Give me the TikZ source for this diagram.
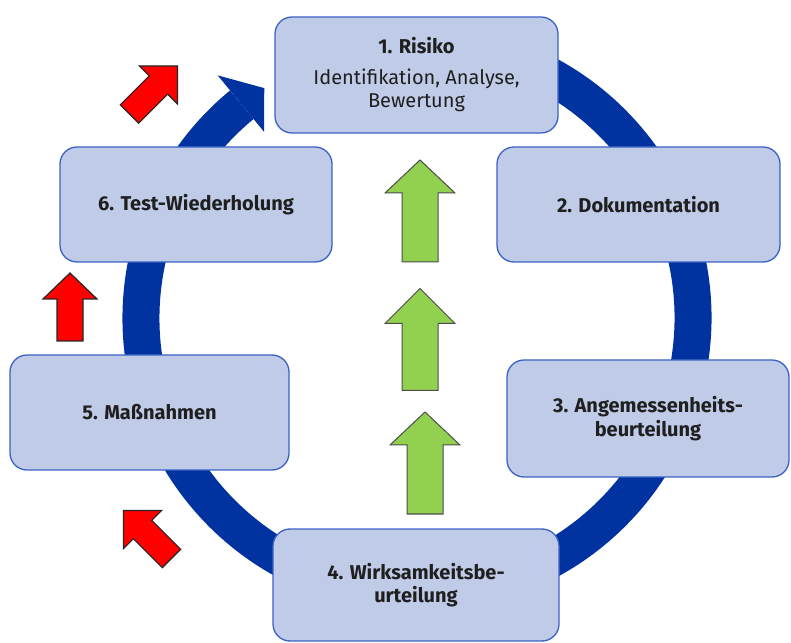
\documentclass[tikz,border=0pt]{standalone}
\usepackage{fontspec}
\setmainfont{Fira Sans}
\usetikzlibrary{calc}

\definecolor{ringblue}{HTML}{0033A0}
\definecolor{boxfill}{HTML}{C0CBE8}
\definecolor{boxline}{HTML}{3A62C4}
\definecolor{arrowgreen}{HTML}{92D050}

\tikzset{
  stage/.style={draw=boxline, line width=1.3pt, fill=boxfill, rounded corners=17pt,
    align=center, text=black!88, inner sep=0pt, font=\fontsize{20}{23.5}\selectfont},
  ringline/.style={draw=ringblue, line width=37pt},
  redarrow/.style={fill=red, draw=black!85, line width=1.2pt, line join=miter},
  greenarrow/.style={fill=arrowgreen, draw=black!70, line width=1pt, line join=miter},
  pics/blockarrow/.style n args={4}{% length, head length, head width, shaft width
    code={\draw[pic actions] (-#4/2,-#1/2) -- (-#4/2,#1/2-#2) -- (-#3/2,#1/2-#2) -- (0,#1/2)
      -- (#3/2,#1/2-#2) -- (#4/2,#1/2-#2) -- (#4/2,-#1/2) -- cycle;}
  }
}

\begin{document}
\begin{tikzpicture}[x=1pt,y=1pt]
\useasboundingbox (0,0) rectangle (791,642);

% the cycle
\coordinate (ctr) at (417,324);
\draw[ringline] ($(ctr)+(80:276)$) arc[start angle=80, end angle=-230.6, radius=276];
\fill[ringblue] ($(ctr)+(129.4:314)$) -- ($(ctr)+(123.6:276)$) -- ($(ctr)+(129.4:241)$) -- cycle;

% steps
\node[stage, minimum width=283, minimum height=116] (risk) at (416.5,567)
  {\textbf{1. Risiko}\\[7pt]Identifikation, Analyse,\\Bewertung};
\node[stage, minimum width=283, minimum height=115] (doku) at (638.5,437.5)
  {\textbf{2. Dokumentation}};
\node[stage, minimum width=282, minimum height=117] (angem) at (648,223.5)
  {\textbf{3. Angemessenheits-}\\\textbf{beurteilung}};
\node[stage, minimum width=286, minimum height=112] (wirk) at (416,57)
  {\textbf{4. Wirksamkeitsbe-}\\\textbf{urteilung}};
\node[stage, minimum width=279, minimum height=115] (mass) at (149.5,229.5)
  {\textbf{5. Maßnahmen}};
\node[stage, minimum width=272, minimum height=115] (test) at (196,437.5)
  {\textbf{6. Test-Wiederholung}};

% red arrows
\pic[redarrow, rotate=-45] at (153.5,552) {blockarrow={68}{27}{54}{26}};
\pic[redarrow] at (70,335) {blockarrow={68}{26}{54}{26}};
\pic[redarrow, rotate=45] at (147.5,107.5) {blockarrow={68}{27}{54}{26}};

% green arrows
\pic[greenarrow] at (420,431) {blockarrow={102}{33}{70}{36}};
\pic[greenarrow] at (420,302.5) {blockarrow={102}{35}{70}{36}};
\pic[greenarrow] at (425,179) {blockarrow={102}{33}{70}{36}};

\end{tikzpicture}
\end{document}
